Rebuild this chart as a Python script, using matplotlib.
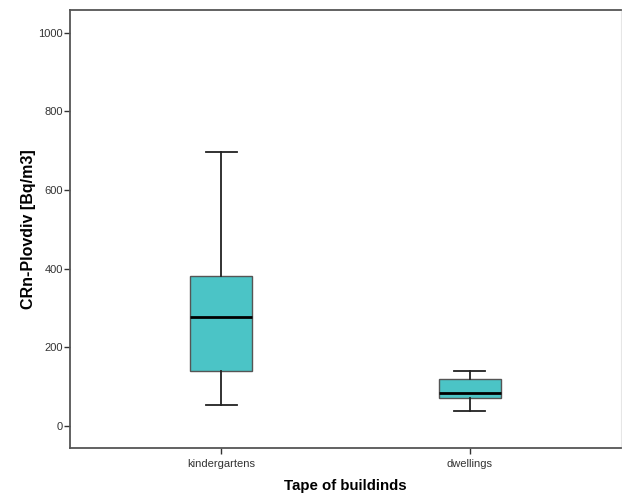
import matplotlib
matplotlib.use("Agg")
import matplotlib.pyplot as plt

plt.rcParams['font.family'] = ['Liberation Sans', 'DejaVu Sans']

# values (Bq/m3)
categories = ["kindergartens", "dwellings"]
whislo = [53, 39]
q1 = [139, 70]
med = [277, 85]
q3 = [382, 119]
whishi = [696, 139]

FILL = "#4BC4C6"

stats = []
for i, name in enumerate(categories):
    stats.append(dict(label=name, whislo=whislo[i], q1=q1[i], med=med[i],
                      q3=q3[i], whishi=whishi[i], fliers=[]))

fig = plt.figure(figsize=(6.22, 4.96), dpi=100)
ax = fig.add_axes([70 / 622, 1 - 448 / 496, 551 / 622, 438 / 496])

bp = ax.bxp(stats, positions=[1, 2], widths=0.25, patch_artist=True,
            showfliers=False,
            boxprops=dict(facecolor=FILL, edgecolor="#555555", linewidth=1.0),
            medianprops=dict(color="black", linewidth=2.0),
            whiskerprops=dict(color="#222222", linewidth=1.3),
            capprops=dict(color="#222222", linewidth=1.3),
            capwidths=0.125)

ax.set_xlim(0.39, 2.61)
ax.set_ylim(-56, 1058)
ax.set_yticks([0, 200, 400, 600, 800, 1000])
ax.tick_params(axis='both', labelsize=8, colors="#333333", length=4, width=1)
ax.tick_params(axis='y', pad=1)
ax.tick_params(axis='x', pad=4)

for s in ["left", "bottom", "top"]:
    ax.spines[s].set_color("#555555")
    ax.spines[s].set_linewidth(1.3)
ax.spines["right"].set_color("#e6e6e6")

ax.set_ylabel("CRn-Plovdiv [Bq/m3]", fontsize=11.5, fontweight="bold", labelpad=2)
ax.set_xlabel("Tape of buildinds", fontsize=10.8, fontweight="bold", labelpad=7)

fig.savefig("out.png", dpi=100)
